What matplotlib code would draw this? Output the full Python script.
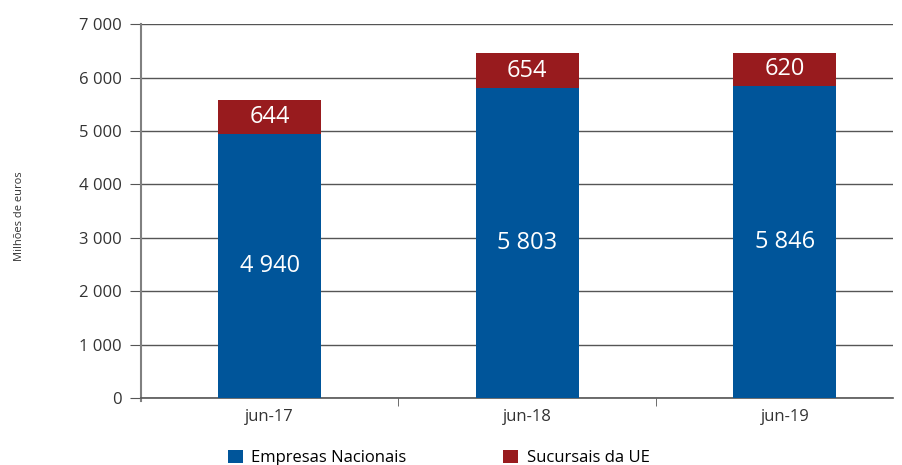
import numpy as np
import matplotlib.pyplot as plt

plt.rcParams['font.family'] = ['Open Sans', 'DejaVu Sans']

# data
categories = ['jun-17', 'jun-18', 'jun-19']
nacionais = [4940, 5803, 5846]
sucursais = [644, 654, 620]
series_names = ['Empresas Nacionais', 'Sucursais da UE']
yticks = [0, 1000, 2000, 3000, 4000, 5000, 6000, 7000]

blue = '#00559A'
red = '#981B1E'

def fmt(v):
    return f'{v:,}'.replace(',', ' ')

fig = plt.figure(figsize=(9.03, 4.65), dpi=100)
ax = fig.add_axes([0.156, 0.144, 0.833, 0.804])

x = np.arange(len(categories))
w = 0.4
b1 = ax.bar(x, nacionais, w, color=blue, label=series_names[0], zorder=3)
b2 = ax.bar(x, sucursais, w, bottom=nacionais, color=red, label=series_names[1], zorder=3)

for xi, n, s in zip(x, nacionais, sucursais):
    ax.text(xi, n / 2, fmt(n), ha='center', va='center', color='white', fontsize=17, zorder=4)
    ax.text(xi, n + s / 2, fmt(s), ha='center', va='center', color='white', fontsize=17, zorder=4)

ax.set_ylim(0, 7000)
ax.set_xlim(-0.5, 2.42)
ax.set_yticks(yticks)
ax.set_yticklabels([fmt(v) for v in yticks], fontsize=12, color='#333333')
ax.yaxis.grid(True, color='#555555', linewidth=1)
ax.set_axisbelow(True)

ax.set_xticks(x)
ax.set_xticklabels(categories, fontsize=12, color='#333333')
ax.tick_params(axis='x', length=0, pad=8)
ax.set_xticks([0.5, 1.5], minor=True)
ax.tick_params(axis='x', which='minor', length=6, color='#555555', direction='out')
ax.tick_params(axis='y', length=8, color='#555555', pad=6)

for s in ['top', 'right']:
    ax.spines[s].set_visible(False)
ax.spines['left'].set_color('#808080')
ax.spines['left'].set_linewidth(1.5)
ax.spines['left'].set_bounds(-50, 7000)
ax.spines['bottom'].set_color('#555555')
ax.spines['bottom'].set_linewidth(1.2)

fig.text(0.022, 0.535, 'Milhões de euros', rotation=90, ha='center', va='center', fontsize=8, color='#333333')

fig.legend(handles=[b1, b2], loc='lower left', bbox_to_anchor=(0.236, -0.035), ncol=2,
           frameon=False, fontsize=12, handlelength=0.9, handleheight=0.9,
           columnspacing=5.8, handletextpad=0.5)

fig.savefig('out.png', dpi=100)
